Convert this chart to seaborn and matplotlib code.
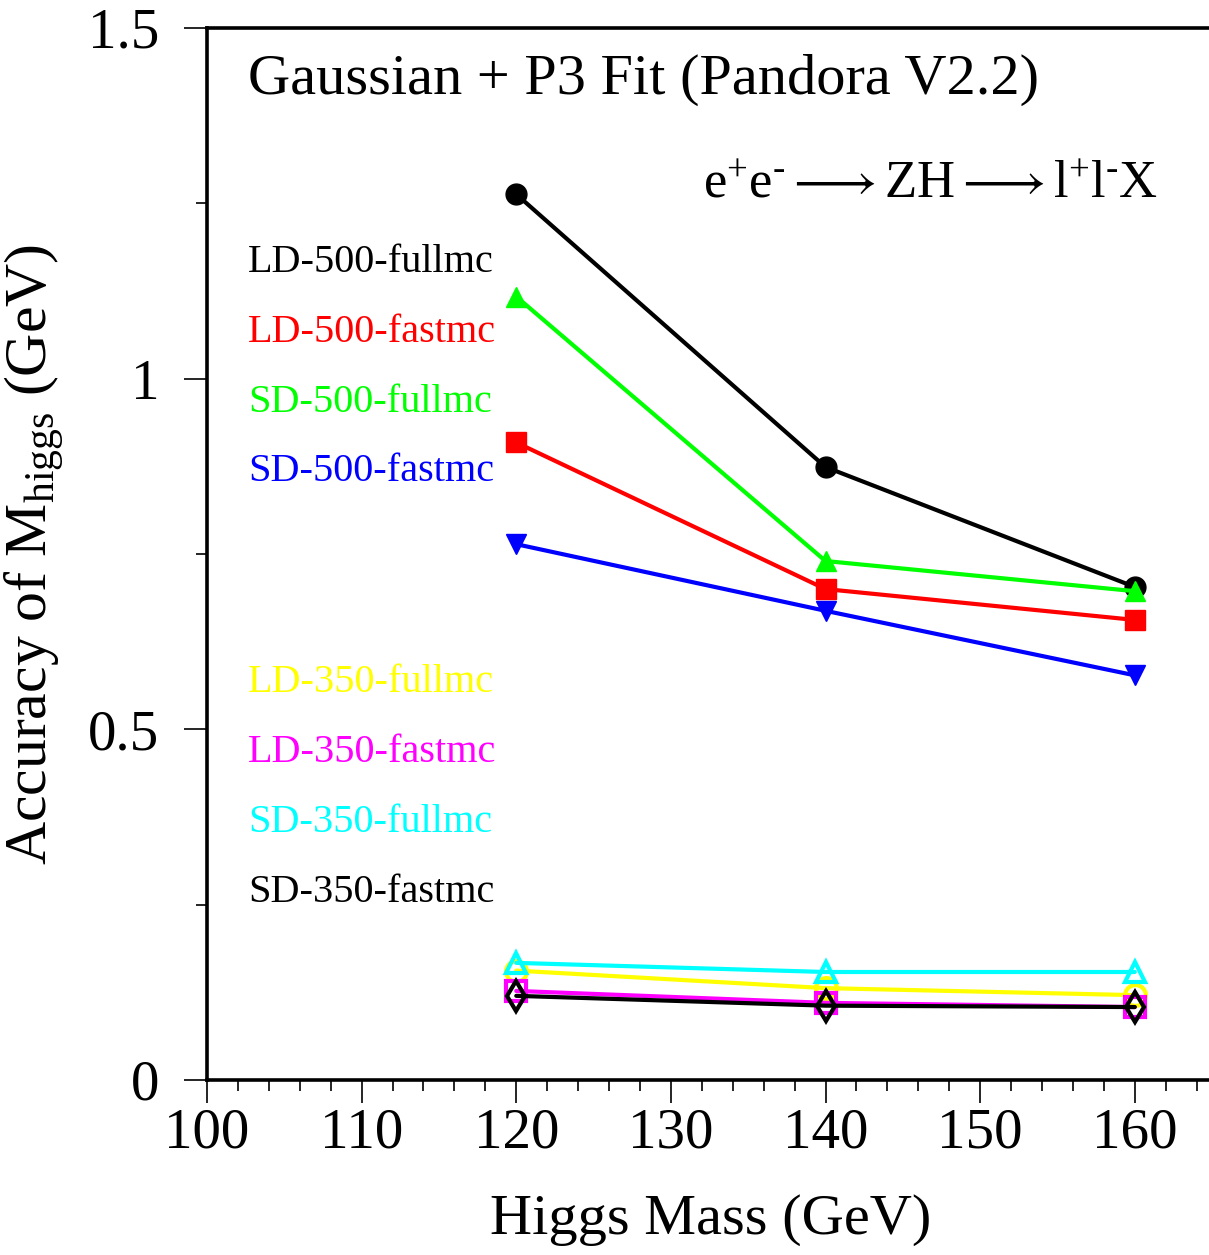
import matplotlib
matplotlib.use("Agg")
import matplotlib.pyplot as plt
import seaborn as sns
import pandas as pd
from matplotlib.ticker import MultipleLocator, FuncFormatter

# ---- data ----
higgs_mass = [120, 140, 160]
series_names = ["LD-500-fullmc", "LD-500-fastmc", "SD-500-fullmc", "SD-500-fastmc",
                "LD-350-fullmc", "LD-350-fastmc", "SD-350-fullmc", "SD-350-fastmc"]
ld500_full = [1.263, 0.874, 0.703]
ld500_fast = [0.909, 0.700, 0.656]
sd500_full = [1.117, 0.740, 0.697]
sd500_fast = [0.764, 0.669, 0.577]
ld350_full = [0.156, 0.131, 0.121]
ld350_fast = [0.127, 0.110, 0.104]
sd350_full = [0.167, 0.154, 0.154]
sd350_fast = [0.120, 0.106, 0.104]
values = [ld500_full, ld500_fast, sd500_full, sd500_fast,
          ld350_full, ld350_fast, sd350_full, sd350_fast]

colors = ["black", "red", "#00ff00", "blue", "#ffff00", "magenta", "cyan", "black"]
markers = ["o", "s", "^", "v", "o", "s", "^", "d"]
filled = [True, True, True, True, False, False, False, False]
label_y_px = [262, 332, 402, 472, 682, 752, 822, 892]

sns.set_theme(style="ticks")
plt.rcParams["font.family"] = ["Liberation Serif", "DejaVu Serif"]
plt.rcParams["mathtext.fontset"] = "custom"
plt.rcParams["mathtext.rm"] = "Liberation Serif"
plt.rcParams["mathtext.it"] = "Liberation Serif:italic"
plt.rcParams["mathtext.fallback"] = "stix"

W, H = 1209, 1255
fig = plt.figure(figsize=(W / 100, H / 100), dpi=100)
ax = fig.add_axes([207 / W, (H - 1080) / H, (W - 207) / W, (1080 - 28) / H])

draw_order = [0, 2, 1, 3, 4, 6, 5, 7]
for i in draw_order:
    df = pd.DataFrame({"x": higgs_mass, "y": values[i]})
    c = colors[i]
    sns.lineplot(data=df, x="x", y="y", ax=ax, color=c, linewidth=3,
                 marker=markers[i], markersize=15,
                 markerfacecolor=c if filled[i] else "none",
                 markeredgecolor=c, markeredgewidth=1 if filled[i] else 3,
                 legend=False, zorder=3 + i)

ax.set_xlim(100, 164.8)
ax.set_ylim(0, 1.5)
ax.xaxis.set_major_locator(MultipleLocator(10))
ax.xaxis.set_minor_locator(MultipleLocator(2))
ax.yaxis.set_major_locator(MultipleLocator(0.5))
ax.yaxis.set_minor_locator(MultipleLocator(0.25))
ax.yaxis.set_major_formatter(FuncFormatter(lambda v, p: "%g" % v))
ax.tick_params(axis="both", which="major", length=16.5, width=1.2, labelsize=41,
               direction="out", color="black", labelcolor="black")
ax.tick_params(axis="x", which="major", pad=3)
ax.tick_params(axis="y", which="major", pad=18)
ax.tick_params(axis="both", which="minor", length=8, width=1.2, direction="out", color="black")
for s in ["left", "bottom", "top"]:
    ax.spines[s].set_linewidth(2.6)
    ax.spines[s].set_color("black")
ax.spines["right"].set_visible(False)

ax.set_xlabel("Higgs Mass (GeV)", fontsize=42, color="black")
ax.set_ylabel(r"Accuracy of M$_{\mathrm{higgs}}$ (GeV)", fontsize=43, color="black")
ax.xaxis.set_label_coords((711 - 207) / (W - 207), -(1194 - 1080) / (1080 - 28))
ax.yaxis.set_label_coords(-(207 - 66) / (W - 207), (1080 - 554) / (1080 - 28))

fig.text(248 / W, 1 - 80 / H, "Gaussian + P3 Fit (Pandora V2.2)", fontsize=42,
         ha="left", va="center", color="black")
fig.text(1158 / W, 1 - 185 / H,
         r"e$^{+}$e$^{\text{-}}\longrightarrow$ZH$\longrightarrow$l$^{+}$l$^{\text{-}}$X",
         fontsize=38, ha="right", va="center", color="black")

for name, c, yp in zip(series_names, colors, label_y_px):
    fig.text(248 / W, 1 - yp / H, name, fontsize=29, color=c, ha="left", va="center")

fig.savefig("out.png", dpi=100)
